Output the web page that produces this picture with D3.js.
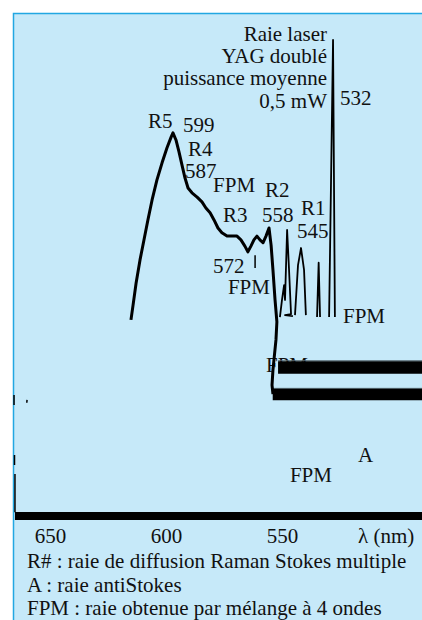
<!DOCTYPE html>
<html>
<head>
<meta charset="utf-8">
<script src="https://cdn.jsdelivr.net/npm/d3@7"></script>
<style>
  body { margin: 0; background: #fff; }
  svg { display: block; }
  svg text { font-family: "Liberation Serif", "DejaVu Serif", serif; }
</style>
</head>
<body>
<div id="container"></div>
<script>
const width = 422,
  height = 620

/* DATA - wavelength (nm) and relative intensity */
// broad Raman trace (R5 ... R2) falling into the middle baseline
const mainLambda = [615.1, 614.2, 612.9, 611.2, 609.5, 607.8, 606.0, 603.9, 601.7, 599.6, 597.8, 597.0,
  595.7, 594.4, 593.1, 591.8, 590.5, 588.8, 586.6, 584.5, 582.8, 581.0, 579.3, 577.6, 575.9, 573.7,
  571.6, 569.4, 567.7, 566.0, 564.7, 563.4, 562.1, 560.8, 559.5, 558.2, 556.9, 555.6, 554.7, 553.9,
  553.0, 552.2, 552.6, 553.9, 554.3, 553.9]
const mainValue = [41.2, 44.3, 48.9, 53.8, 58.0, 62.2, 66.4, 70.6, 74.2, 77.3, 79.6, 80.5,
  79.0, 76.5, 73.7, 71.0, 68.9, 67.9, 67.0, 66.0, 64.7, 63.7, 62.2, 60.5, 59.5, 58.8,
  58.8, 58.8, 58.0, 56.7, 55.5, 56.7, 58.0, 58.8, 58.0, 57.4, 58.8, 60.5, 56.9, 51.7,
  45.4, 40.8, 37.0, 30.7, 27.5, 25.6]

// narrow lines R2 / R1 / laser (null = pen lifted)
const lineLambda = [550.9, 550.0, 549.1, 548.7, 547.8, 547.0, 546.1, 548.7, 545.3, null,
  544.4, 543.1, 541.8, 540.5, 539.7, null,
  534.9, 534.2, 533.6, null,
  529.7, 528.0, 527.2]
const lineValue = [41.8, 45.4, 48.5, 45.4, 60.1, 52.1, 42.4, 42.2, 42.0, null,
  42.2, 52.7, 56.3, 51.7, 42.2, null,
  41.8, 53.2, 41.8, null,
  41.8, 100, 41.8]

// scraps of trace at the left edge
const edgeLambda = [665.5, 665.5, null, 659.9, 660.0, null, 665.3, 665.3, null, 665.1, 665.1]
const edgeValue = [25.4, 23.3, null, 24.4, 23.8, null, 12.8, 10.7, null, 8.8, 0.8]

// small FPM marker tick
const tickLambda = [561.6, 561.6]
const tickValue = [54.8, 52.1]

// recorder baselines
const baseStart = [665.1, 554.0, 551.7]
const baseLevel = [0, 25.5, 31.2]

const xTicks = [650, 600, 550]

const labelText = ["Raie laser", "YAG doublé", "puissance moyenne", "0,5 mW", "532",
  "R5", "599", "R4", "587", "FPM", "R2", "R3", "558", "R1", "545", "572", "FPM", "FPM", "FPM", "A", "FPM"]
const labelLambda = [530.6, 530.6, 530.6, 530.6, 525.0,
  607.8, 592.7, 590.5, 591.8, 579.7, 557.3, 575.4, 558.6, 541.8, 543.5, 579.7, 573.3, 523.7, 556.9, 517.2, 546.6]
const labelValue = [99.8, 95.2, 90.5, 85.7, 86.3,
  81.5, 80.7, 75.6, 71.0, 68.1, 67.0, 61.8, 61.8, 63.2, 58.4, 51.0, 46.7, 40.5, 30.3, 11.3, 7.1]

const legendLines = ["R# : raie de diffusion Raman Stokes multiple",
  "A : raie antiStokes",
  "FPM : raie obtenue par mélange à 4 ondes"]

const serif = "Liberation Serif, DejaVu Serif, serif"

/* SCALES */
const xScale = d3.scaleLinear()
  .domain([650, 550])
  .range([50, 282])

const yScale = d3.scaleLinear()
  .domain([0, 100])
  .range([516, 40])

const svg = d3.select("#container").append("svg")
  .attr("width", width)
  .attr("height", height)
  .attr("font-family", serif)

// panel
svg.append("rect")
  .attr("x", 13).attr("y", 13)
  .attr("width", width - 13).attr("height", height - 13)
  .attr("fill", "#c6e9f9")
svg.append("path")
  .attr("d", `M13.5,${height}V13.5H${width}`)
  .attr("fill", "none")
  .attr("stroke", "#22a7e2")
  .attr("stroke-width", 1.5)

const toPts = (ls, vs) => ls.map((l, i) => ({ l: l, v: vs[i] }))
const line = d3.line()
  .defined(d => d.l != null)
  .x(d => xScale(d.l))
  .y(d => yScale(d.v))

/* LABELS (drawn under the traces, the FPM at the bar is partly covered) */
svg.selectAll("text.ann")
  .data(labelText)
  .join("text")
  .attr("class", "ann")
  .attr("x", (d, i) => xScale(labelLambda[i]))
  .attr("y", (d, i) => yScale(labelValue[i]))
  .attr("text-anchor", (d, i) => i < 4 ? "end" : "start")
  .attr("font-family", serif)
  .attr("font-size", 21)
  .attr("fill", "#111")
  .text(d => d)

/* BASELINES */
const xEnd = xScale.invert(width)
baseStart.forEach((s, i) => {
  const th = [8, 11.5, 12.5][i]
  const y = yScale(baseLevel[i])
  if (i > 0) {
    svg.append("line")
      .attr("x1", xScale(s)).attr("x2", width)
      .attr("y1", y - th / 2 - 0.5).attr("y2", y - th / 2 - 0.5)
      .attr("stroke", "#55666f").attr("stroke-width", 1)
  }
  svg.append("path")
    .attr("d", line([{ l: s, v: baseLevel[i] }, { l: xEnd, v: baseLevel[i] }]))
    .attr("stroke", "#000")
    .attr("stroke-width", th)
})

/* TRACES */
svg.append("path")
  .attr("d", line(toPts(mainLambda, mainValue)))
  .attr("fill", "none")
  .attr("stroke", "#000")
  .attr("stroke-width", 3)
  .attr("stroke-linejoin", "round")

svg.append("path")
  .attr("d", line(toPts(lineLambda, lineValue)))
  .attr("fill", "none")
  .attr("stroke", "#000")
  .attr("stroke-width", 1.8)
  .attr("stroke-linejoin", "round")

svg.append("path")
  .attr("d", line(toPts(edgeLambda, edgeValue)))
  .attr("fill", "none")
  .attr("stroke", "#000")
  .attr("stroke-width", 1.5)

svg.append("path")
  .attr("d", line(toPts(tickLambda, tickValue)))
  .attr("stroke", "#000")
  .attr("stroke-width", 1.5)

/* AXIS */
const xAxis = d3.axisBottom(xScale)
  .tickValues(xTicks)
  .tickSize(0)
  .tickPadding(0)

svg.append("g")
  .attr("class", "x-axis")
  .attr("transform", "translate(0, 528)")
  .call(xAxis)
  .attr("font-family", serif)
  .attr("font-size", 21)
  .call(g => g.select(".domain").remove())
  .selectAll("text")
  .attr("dy", "0.72em")
  .attr("fill", "#111")

svg.append("text")
  .attr("x", 358)
  .attr("y", 543)
  .attr("font-family", serif)
  .attr("font-size", 21)
  .attr("fill", "#111")
  .text("λ (nm)")

/* LEGEND */
svg.selectAll("text.legend")
  .data(legendLines)
  .join("text")
  .attr("class", "legend")
  .attr("x", 27)
  .attr("y", (d, i) => 568 + i * 23.5)
  .attr("font-family", serif)
  .attr("font-size", 21)
  .attr("fill", "#111")
  .text(d => d)
</script>
</body>
</html>
